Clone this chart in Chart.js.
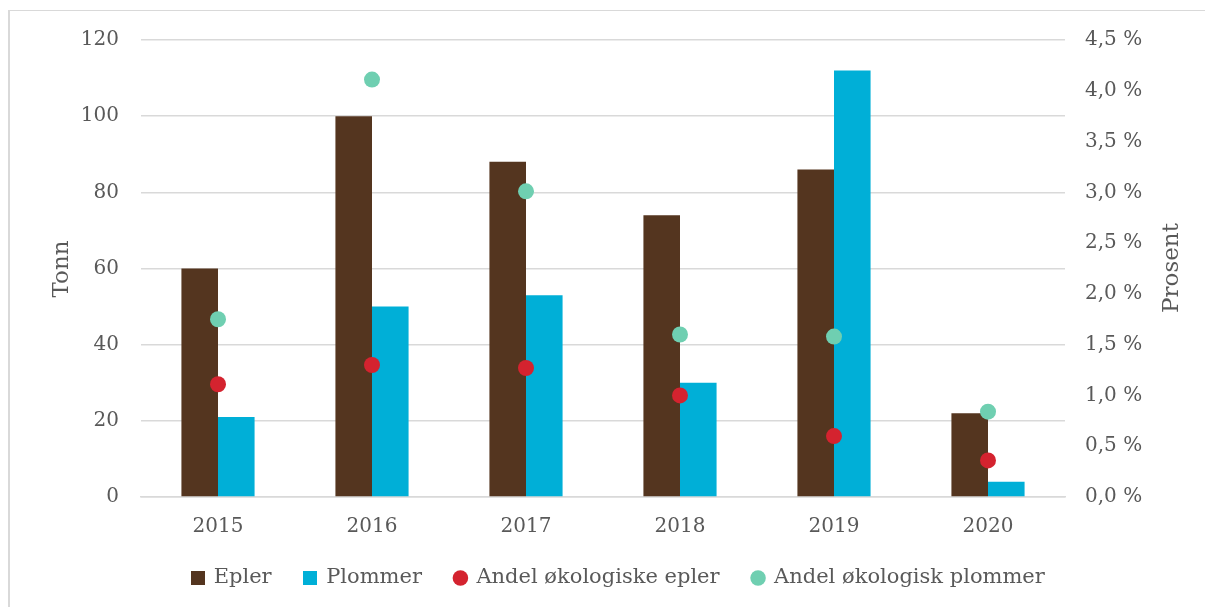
<!DOCTYPE html>
<html>
<head>
<meta charset="utf-8">
<script src="https://cdn.jsdelivr.net/npm/chart.js@4"></script>
<style>
	body { margin: 0; background: #fff; }
	#wrap { position: relative; width: 1205px; height: 607px; }
	#frame { position: absolute; left: 8px; top: 10px; right: 0; bottom: 0;
		border-left: 2px solid #d9d9d9; border-top: 1px solid #d9d9d9; }
	canvas#chart { position: absolute; left: 0; top: 0; }
</style>
</head>
<body>
<div id="wrap">
	<div id="frame"></div>
	<canvas id="chart" width="1205" height="607"></canvas>
</div>
<script>
var years = ["2015", "2016", "2017", "2018", "2019", "2020"];
var epler = [60, 100, 88, 74, 86, 22];
var plommer = [21, 50, 53, 30, 112, 4];
// andel økologisk, prosent
var okoEpler = [1.11, 1.30, 1.27, 1.00, 0.60, 0.36];
var okoPlommer = [1.75, 4.11, 3.01, 1.60, 1.58, 0.84];

var textColor = "#595959";
var fontFamily = "'DejaVu Serif', Georgia, serif";
var gridColor = "#d9d9d9";
var legendPad = 33;
var legendFont = 21;

Chart.defaults.font.family = fontFamily;
Chart.defaults.color = textColor;

// small square used as legend marker for the bar series
function square(color) {
	var c = document.createElement("canvas");
	c.width = 14;
	c.height = 14;
	var g = c.getContext("2d");
	g.fillStyle = color;
	g.fillRect(0, 0, 14, 14);
	return c;
}

var axisTitles = {
	id: "axisTitles",
	afterLayout: function(chart) {
		// move the legend row: its padding also sets the gaps between items
		var lg = chart.legend;
		var h = lg.bottom - lg.top;
		lg.top = 578 - legendPad - legendFont / 2;
		lg.bottom = lg.top + h;
		lg.left += 16;
		lg.right += 16;
	},
	afterDraw: function(chart) {
		var ctx = chart.ctx;
		ctx.save();
		ctx.fillStyle = textColor;
		ctx.font = "23px " + fontFamily;
		ctx.textAlign = "center";
		ctx.textBaseline = "middle";
		[["Tonn", 62, 269], ["Prosent", 1172, 268]].forEach(function(t) {
			ctx.save();
			ctx.translate(t[1], t[2]);
			ctx.rotate(-Math.PI / 2);
			ctx.fillText(t[0], 0, 0);
			ctx.restore();
		});
		ctx.restore();
	}
};

function legendLabels(chart) {
	var items = Chart.defaults.plugins.legend.labels.generateLabels(chart);
	items.forEach(function(it) {
		var ds = chart.data.datasets[it.datasetIndex];
		it.pointStyle = ds.type === "bar" ? square(ds.backgroundColor) : "circle";
		it.lineWidth = 0;
		it.strokeStyle = "rgba(0,0,0,0)";
	});
	return items;
}

var ctx = document.getElementById("chart").getContext("2d");
new Chart(ctx, {
	data: {
		labels: years,
		datasets: [
			{ type: "line", label: "Andel økologiske epler", data: okoEpler, yAxisID: "y1",
				showLine: false, pointRadius: 8, pointHoverRadius: 8, borderWidth: 0,
				backgroundColor: "#d4232f", borderColor: "#d4232f", order: 0 },
			{ type: "line", label: "Andel økologisk plommer", data: okoPlommer, yAxisID: "y1",
				showLine: false, pointRadius: 8, pointHoverRadius: 8, borderWidth: 0,
				backgroundColor: "#6fcfb1", borderColor: "#6fcfb1", order: 0 },
			{ type: "bar", label: "Epler", data: epler, yAxisID: "y",
				backgroundColor: "#54351f", barPercentage: 1, categoryPercentage: 0.475, order: 1 },
			{ type: "bar", label: "Plommer", data: plommer, yAxisID: "y",
				backgroundColor: "#00afd7", barPercentage: 1, categoryPercentage: 0.475, order: 1 }
		]
	},
	options: {
		responsive: false,
		animation: false,
		layout: { padding: { top: 40, left: 0, right: 0, bottom: 5 } },
		plugins: {
			tooltip: { enabled: false },
			legend: {
				position: "bottom",
				labels: {
					usePointStyle: true,
					boxWidth: 11,
					boxHeight: 11,
					padding: legendPad,
					font: { size: legendFont },
					color: textColor,
					generateLabels: legendLabels,
					sort: function(a, b) {
						var order = [2, 3, 0, 1];
						return order.indexOf(a.datasetIndex) - order.indexOf(b.datasetIndex);
					}
				}
			}
		},
		scales: {
			x: {
				grid: { display: false, drawTicks: false },
				border: { color: gridColor, width: 1.5 },
				ticks: { padding: 18, font: { size: 20 }, color: textColor },
				afterFit: function(s) { s.height = 41; }
			},
			y: {
				position: "left",
				min: 0, max: 120,
				ticks: { stepSize: 20, padding: 22, font: { size: 20 }, color: textColor },
				grid: { color: gridColor, lineWidth: 1.5, drawTicks: false },
				border: { display: false },
				afterFit: function(s) { s.width = 141; }
			},
			y1: {
				position: "right",
				min: 0, max: 4.5,
				ticks: { stepSize: 0.5, padding: 20, font: { size: 20 }, color: textColor,
					callback: function(v) { return v.toFixed(1).replace(".", ",") + " %"; } },
				grid: { display: false, drawTicks: false },
				border: { display: false },
				afterFit: function(s) { s.width = 140; }
			}
		}
	},
	plugins: [axisTitles]
});
</script>
</body>
</html>
